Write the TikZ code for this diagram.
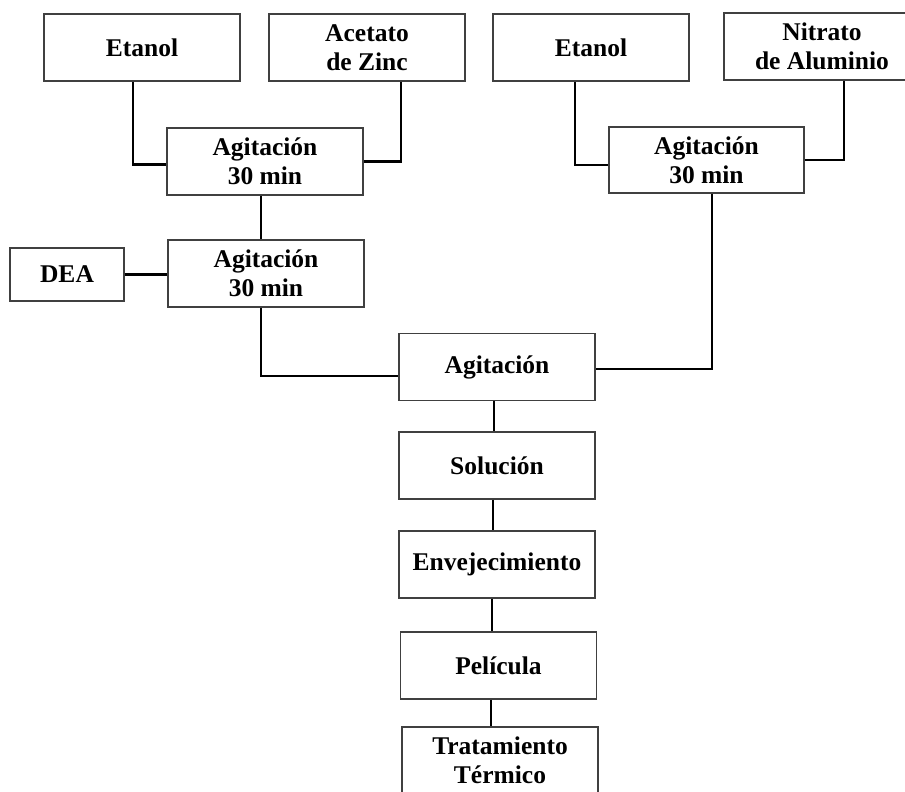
\documentclass[tikz,border=0pt]{standalone}
\usepackage{fontspec}
\setmainfont{Liberation Serif}
\begin{document}
\begin{tikzpicture}[x=1pt,y=-1pt,
  box/.style={draw=black!75,line width=1.7pt,fill=white,minimum width=196pt,minimum height=67pt,inner sep=0pt,align=center,
    font=\fontsize{25.5}{29}\selectfont\bfseries},
  conn/.style={line width=2.4pt,black}]
\fill[white] (0,0) rectangle (905,792);
\clip (0,0) rectangle (905,792);
\node[box] (e1) at (142,47.5) {Etanol};
\node[box] (ac) at (367,47.5) {Acetato\\de Zinc};
\node[box] (a1) at (265,161.5) {Agitación\\30 min};
\node[box] (a2) at (266,273.5) {Agitación\\30 min};
\node[box,minimum width=114pt,minimum height=53pt] (dea) at (67,274.5) {DEA};
\node[box] (e2) at (591,47.5) {Etanol};
\node[box] (ni) at (822,46.5) {\fontsize{25.5}{27}\selectfont Nitrato\\de Aluminio};
\node[box,minimum width=195pt,minimum height=66pt] (a3) at (706.5,160) {Agitación\\30 min};
\node[box] (ag) at (497,367) {Agitación};
\node[box] (sol) at (497,465.5) {Solución};
\node[box] (env) at (497,564.5) {Envejecimiento};
\node[box] (pel) at (498.5,665.5) {Película};
\node[box] (tra) at (500,760.5) {Tratamiento\\Térmico};
\draw[conn] ([xshift=-9pt]e1.south) |- ([yshift=-3pt]a1.west);
\draw[conn] ([xshift=34pt]ac.south) |- (a1.east);
\draw[conn] ([xshift=-4pt]a1.south) -- ([xshift=-5pt]a2.north);
\draw[conn] (dea.east) -- (dea.east -| a2.west);
\draw[conn] ([xshift=-16pt]e2.south) |- ([yshift=-5pt]a3.west);
\draw[conn] ([xshift=22pt]ni.south) |- (a3.east);
\draw[conn] ([xshift=-5pt]a2.south) |- ([yshift=-9pt]ag.west);
\draw[conn] ([xshift=5.5pt]a3.south) |- ([yshift=-2pt]ag.east);
\draw[conn] ([xshift=-3pt]ag.south) -- ([xshift=-3pt]sol.north);
\draw[conn] ([xshift=-4pt]sol.south) -- ([xshift=-4pt]env.north);
\draw[conn] ([xshift=-5pt]env.south) -- ([xshift=-6.5pt]pel.north);
\draw[conn] ([xshift=-7.5pt]pel.south) -- ([xshift=-9pt]tra.north);
\end{tikzpicture}
\end{document}
